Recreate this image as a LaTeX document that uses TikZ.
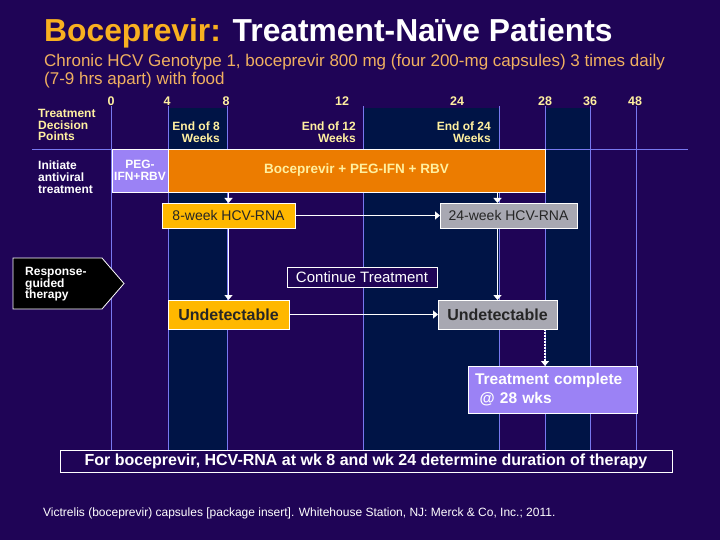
\documentclass[tikz,border=0pt]{standalone}
\usepackage{fontspec}
\setmainfont{Liberation Sans}
\usetikzlibrary{arrows.meta}
\definecolor{bg}{RGB}{31,4,86}
\definecolor{navy}{RGB}{0,20,70}
\definecolor{gridc}{RGB}{120,120,240}
\definecolor{cream}{RGB}{255,240,160}
\definecolor{titleor}{RGB}{248,176,32}
\definecolor{subor}{RGB}{240,176,96}
\definecolor{baror}{RGB}{236,124,0}
\definecolor{yel}{RGB}{255,184,0}
\definecolor{grayb}{RGB}{168,168,178}
\definecolor{lav}{RGB}{155,130,245}
\newcommand\myfs[2]{\fontsize{#1}{#2}\selectfont}
\tikzset{
  box/.style={draw=white, line width=0.8pt, inner sep=0pt, outer sep=0pt},
  wk/.style={text=cream, font=\bfseries\myfs{12.5}{12}, inner sep=0pt},
  lbl/.style={font=\bfseries\myfs{12}{11.6}, inner sep=0pt},
  arr/.style={draw=white, line width=1.6pt, -{Triangle[length=5pt,width=8pt]}},
  darr/.style={draw=white, line width=1.4pt, dash pattern=on 1.5pt off 1.5pt, -{Triangle[length=5pt,width=8pt]}},
  gline/.style={draw=gridc, line width=0.8pt}
}
\begin{document}
\begin{tikzpicture}[x=1pt,y=-1pt]
\fill[bg] (0,0) rectangle (720,540);
\useasboundingbox (0,0) rectangle (720,540);
% shaded columns
\fill[navy] (168,108) rectangle (227,450);
\fill[navy] (363,108) rectangle (499,450);
\fill[navy] (545,108) rectangle (590,450);
% week lines
\foreach \n/\x in {0/111,4/168,8/227,12/363,24/499,28/545,36/590,48/636}{
  \coordinate (w\n) at (\x,106);
  \draw[gline] (\x,106) -- (\x,450);
}
\draw[gline] (32,149) -- (688,149);
% title
\node[anchor=base west, inner sep=0pt, font=\bfseries\myfs{31.8}{34}] (title) at (44,42)
  {\textcolor{titleor}{Boceprevir:} \textcolor{white}{Treatment-Naïve Patients}};
\node[anchor=base west, inner sep=0pt, text=subor, font=\myfs{17}{18}] (sub1) at (44,67)
  {Chronic HCV Genotype 1, boceprevir 800 mg (four 200-mg capsules) 3 times daily};
\node[anchor=base west, inner sep=0pt, text=subor, font=\myfs{17}{18}] (sub2) at (44,85)
  {(7-9 hrs apart) with food};
% week labels
\foreach \n/\x in {0/111,4/167,8/226,12/342,24/457,28/545,36/590,48/635}
  \node[wk] (wk\n) at (\x,101) {\n};
% left labels
\node[lbl, text=cream, anchor=north west, align=left] (tdp) at (38,109) {Treatment\\Decision\\Points};
\node[lbl, text=white, anchor=north west, align=left] (iat) at (38,161) {Initiate\\antiviral\\treatment};
\node[lbl, text=cream, anchor=north east, align=right] (e8) at (220,122) {End of 8\\Weeks};
\node[lbl, text=cream, anchor=north east, align=right] (e12) at (356,122) {End of 12\\Weeks};
\node[lbl, text=cream, anchor=north east, align=right] (e24) at (491,122) {End of 24\\Weeks};
% treatment bars
\node[box, fill=lav, minimum width=56pt, minimum height=43pt, text=white, align=center,
      font=\bfseries\myfs{12}{12}] (peg) at (140,170.5) {PEG-\\IFN+RBV};
\node[box, fill=baror, minimum width=377pt, minimum height=43pt, text=cream,
      font=\bfseries\myfs{13.5}{14}] (bar) at (356.5,170.5) {Boceprevir + PEG-IFN + RBV};
% decision boxes
\node[box, fill=yel, minimum width=133pt, minimum height=25pt, text=black!85,
      font=\myfs{14}{14}] (rna8) at (228.5,215.5) {8-week HCV-RNA};
\node[box, fill=grayb, minimum width=137pt, minimum height=25pt, text=black!85,
      font=\myfs{14}{14}] (rna24) at (508.5,215.5) {24-week HCV-RNA};
\node[box, fill=bg, minimum width=150pt, minimum height=20pt, text=white,
      font=\myfs{15}{15}] (cont) at (362,277) {Continue Treatment};
\node[box, fill=yel, minimum width=121pt, minimum height=29pt, text=black!85,
      font=\bfseries\myfs{16}{16}] (und8) at (228.5,314.5) {Undetectable};
\node[box, fill=grayb, minimum width=119pt, minimum height=29pt, text=black!85,
      font=\bfseries\myfs{16}{16}] (und24) at (497.5,314.5) {Undetectable};
\node[box, fill=lav, minimum width=169pt, minimum height=47pt, text=white, align=left,
      font=\bfseries\myfs{15.5}{19}, text width=155pt] (done) at (552.5,389.5)
      {Treatment complete\\\hspace*{0.3em}@ 28 wks};
% response guided therapy
\draw[fill=black, draw=white, line width=0.8pt] (13,258) -- (102,258) -- (124,283.5) -- (102,309) -- (13,309) -- cycle;
\node[lbl, text=white, anchor=north west, align=left] (rgt) at (25,267) {Response-\\guided\\therapy};
% statement
\node[box, minimum width=612pt, minimum height=22pt, text=white,
      font=\bfseries\myfs{16}{16}] (stmt) at (366,461)
      {For boceprevir, HCV-RNA at wk 8 and wk 24 determine duration of therapy};
\node[anchor=base west, inner sep=0pt, text=white, font=\myfs{12}{12}] (ref) at (43,516)
  {Victrelis (boceprevir) capsules [package insert]. Whitehouse Station, NJ: Merck \& Co, Inc.; 2011.};
% connectors
\draw[arr] (bar.south -| und8.north) -- (rna8.north -| und8.north);
\draw[arr] (rna8.south -| und8.north) -- (und8.north);
\draw[arr] (bar.south -| und24.north) -- (rna24.north -| und24.north);
\draw[arr] (rna24.south -| und24.north) -- (und24.north);
\draw[arr] (rna8.east) -- (rna24.west);
\draw[arr] (und8.east) -- (und24.west);
\draw[darr] (und24.south -| w28) -- (done.north -| w28);
\end{tikzpicture}
\end{document}
